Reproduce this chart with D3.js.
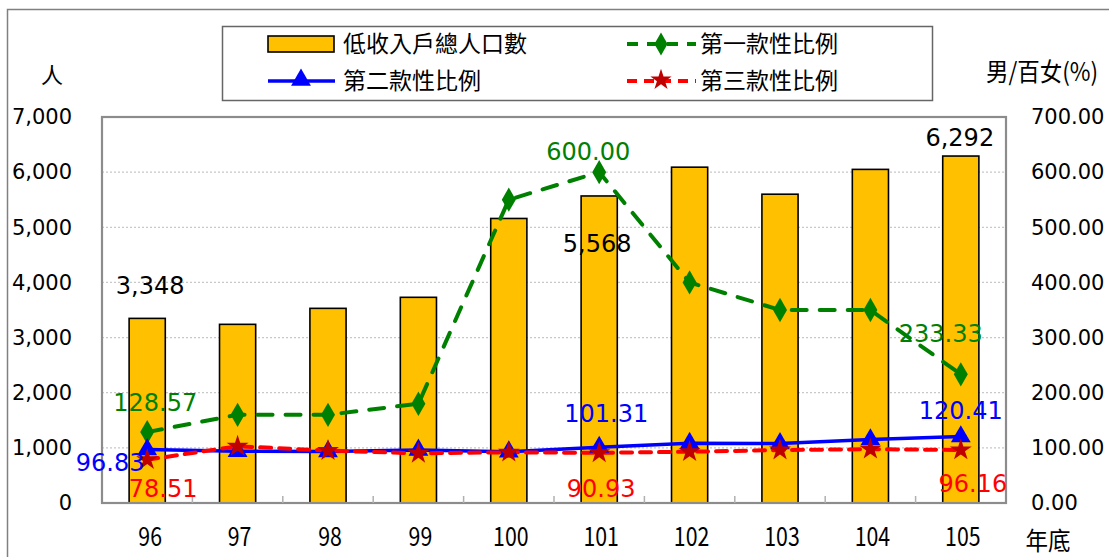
<!DOCTYPE html>
<html><head><meta charset="utf-8">
<script src="https://cdn.jsdelivr.net/npm/d3@7"></script>
<style>
body{margin:0;background:#fff;}
svg{display:block;}
</style></head>
<body>
<svg id="chart" width="1109" height="557"></svg>
<script>
// ---- data ----
const years = ["96","97","98","99","100","101","102","103","104","105"];
const population = [3348, 3240, 3530, 3730, 5160, 5568, 6090, 5600, 6050, 6292];
const ratio1 = [128.57, 160.00, 160.00, 180.00, 550.00, 600.00, 400.00, 350.00, 350.00, 233.33];
const ratio2 = [96.83, 94.00, 93.50, 96.00, 93.00, 101.31, 108.50, 108.00, 115.00, 120.41];
const ratio3 = [78.51, 103.00, 95.00, 90.00, 92.00, 90.93, 93.00, 96.00, 97.50, 96.16];
const leftTicks = [0,1000,2000,3000,4000,5000,6000,7000];
const rightTicks = [0,100,200,300,400,500,600,700];
const legendNames = ["低收入戶總人口數","第一款性比例","第二款性比例","第三款性比例"];
const leftTitle = "人";
const rightTitle = "男/百女(%)";
const xTitle = "年底";

const svg = d3.select("#chart");
const numFont = "'DejaVu Sans', sans-serif";
const cjkFont = "'Noto Sans CJK TC', 'Noto Sans', sans-serif";

const L = 102, R = 1006, T = 117, B = 503;
const x = d3.scaleBand().domain(years).range([L, R]).paddingInner(0.6).paddingOuter(0.3);
const bw = x.bandwidth();
const cx = d => x(d) + bw / 2;
const yL = d3.scaleLinear().domain([0, 7000]).range([B, T]);
const yR = d3.scaleLinear().domain([0, 700]).range([B, T]);

// outer frame
svg.append("rect").attr("x", 7.5).attr("y", 9.5).attr("width", 1130).attr("height", 560)
  .attr("fill", "none").attr("stroke", "#808080").attr("stroke-width", 1.5);

// gridlines
svg.append("g").selectAll("line").data(leftTicks.filter(t => t > 0 && t < 7000)).join("line")
  .attr("x1", L).attr("x2", R).attr("y1", d => yL(d)).attr("y2", d => yL(d))
  .attr("stroke", "#c8c8c8").attr("stroke-width", 1.2).attr("stroke-dasharray", "2,2");

// bars
svg.append("g").selectAll("rect").data(years).join("rect")
  .attr("x", d => x(d)).attr("width", bw)
  .attr("y", (d, i) => yL(population[i])).attr("height", (d, i) => B - yL(population[i]))
  .attr("fill", "#FFC000").attr("stroke", "#000").attr("stroke-width", 1.6);

// plot frame
svg.append("rect").attr("x", L).attr("y", T).attr("width", R - L).attr("height", B - T)
  .attr("fill", "none").attr("stroke", "#8c8c8c").attr("stroke-width", 2.2);

// minor x ticks at boundaries
const step = x.step();
svg.append("g").selectAll("line").data(years.slice(0, -1)).join("line")
  .attr("x1", d => cx(d) + step / 2).attr("x2", d => cx(d) + step / 2)
  .attr("y1", B).attr("y2", B - 7).attr("stroke", "#b0b0b0").attr("stroke-width", 1.5);

// axes
const axL = svg.append("g").attr("transform", `translate(${L},0)`)
  .call(d3.axisLeft(yL).tickValues(leftTicks).tickFormat(d3.format(",")).tickSize(0).tickPadding(30));
const axR = svg.append("g").attr("transform", `translate(${R},0)`)
  .call(d3.axisRight(yR).tickValues(rightTicks).tickFormat(d3.format(".2f")).tickSize(0).tickPadding(25));
const axX = svg.append("g").attr("transform", `translate(0,${B})`)
  .call(d3.axisBottom(x).tickSize(0).tickPadding(25));
[axL, axR, axX].forEach(a => { a.select(".domain").remove(); });
axL.selectAll("text").attr("font-family", numFont).attr("font-size", 21).attr("fill", "#000");
axR.selectAll("text").attr("font-family", numFont).attr("font-size", 21).attr("fill", "#000");
axX.selectAll("text").attr("font-family", cjkFont).attr("font-size", 26).attr("fill", "#000")
  .attr("transform", (d, i) => `translate(${i === 0 ? 3 : 2},0) scale(0.82,1)`);

// axis titles
svg.append("text").attr("x", 52).attr("y", 83).attr("text-anchor", "middle")
  .attr("font-family", cjkFont).attr("font-size", 22).text(leftTitle);
svg.append("text").attr("transform", "translate(1042,81) scale(0.9,1)").attr("text-anchor", "middle")
  .attr("font-family", cjkFont).attr("font-size", 25).text(rightTitle);
svg.append("text").attr("transform", "translate(1048,550) scale(0.9,1)").attr("text-anchor", "middle")
  .attr("font-family", cjkFont).attr("font-size", 25).text(xTitle);

// series lines
const mkLine = vals => d3.line().x((d, i) => cx(years[i])).y(d => yR(d))(vals);
svg.append("path").attr("d", mkLine(ratio1)).attr("fill", "none").attr("stroke", "#008000")
  .attr("stroke-width", 4).attr("stroke-dasharray", "15,13").attr("stroke-linecap", "round");
svg.append("path").attr("d", mkLine(ratio2)).attr("fill", "none").attr("stroke", "#0000FF")
  .attr("stroke-width", 3.5);
svg.append("path").attr("d", mkLine(ratio3)).attr("fill", "none").attr("stroke", "#FF0000")
  .attr("stroke-width", 4).attr("stroke-dasharray", "11,8").attr("stroke-linecap", "round");

// markers
function markers(vals, type, size, fill) {
  svg.append("g").selectAll("path").data(vals).join("path")
    .attr("transform", (d, i) => `translate(${cx(years[i])},${yR(d)})`)
    .attr("d", d3.symbol().type(type).size(size)).attr("fill", fill);
}
markers(ratio1, d3.symbolDiamond, 170, "#008000");
markers(ratio2, d3.symbolTriangle, 170, "#0000FF");
markers(ratio3, d3.symbolStar, 150, "#C00000");

// data labels
function label(txt, xx, yy, color) {
  svg.append("text").attr("x", xx).attr("y", yy).attr("text-anchor", "middle")
    .attr("font-family", numFont).attr("font-size", 24).attr("fill", color).text(txt);
}
const fmtN = d3.format(",");
const fmtR = d3.format(".2f");
label(fmtN(population[0]), cx(years[0]) + 3, yL(population[0]) - 24, "#000");
label(fmtN(population[5]), cx(years[5]) - 2, yL(population[5]) + 56, "#000");
label(fmtN(population[9]), cx(years[9]) - 1, yL(population[9]) - 10, "#000");
label(fmtR(ratio1[0]), cx(years[0]) + 8, yR(ratio1[0]) - 21, "#008000");
label(fmtR(ratio1[5]), cx(years[5]) - 11, yR(ratio1[5]) - 12, "#008000");
label(fmtR(ratio1[9]), cx(years[9]) - 20, yR(ratio1[9]) - 32, "#008000");
label(fmtR(ratio2[0]), cx(years[0]) - 37, yR(ratio2[0]) + 21, "#0000FF");
label(fmtR(ratio2[5]), cx(years[5]) + 7, yR(ratio2[5]) - 25, "#0000FF");
label(fmtR(ratio2[9]), cx(years[9]), yR(ratio2[9]) - 18, "#0000FF");
label(fmtR(ratio3[0]), cx(years[0]) + 16, yR(ratio3[0]) + 37, "#FF0000");
label(fmtR(ratio3[5]), cx(years[5]) + 2, yR(ratio3[5]) + 44, "#FF0000");
label(fmtR(ratio3[9]), cx(years[9]) + 12, yR(ratio3[9]) + 42, "#FF0000");

// legend
const lg = svg.append("g");
lg.append("rect").attr("x", 222.5).attr("y", 26.5).attr("width", 710).attr("height", 74)
  .attr("fill", "#fff").attr("stroke", "#666").attr("stroke-width", 1.5);
lg.append("rect").attr("x", 268).attr("y", 36).attr("width", 66).attr("height", 16)
  .attr("fill", "#FFC000").attr("stroke", "#000").attr("stroke-width", 1.6);
// green
lg.append("line").attr("x1", 627).attr("x2", 696).attr("y1", 44).attr("y2", 44)
  .attr("stroke", "#008000").attr("stroke-width", 4).attr("stroke-dasharray", "11,9");
lg.append("path").attr("transform", "translate(661,44)").attr("d", d3.symbol().type(d3.symbolDiamond).size(150)).attr("fill", "#008000");
// blue
lg.append("line").attr("x1", 268).attr("x2", 335).attr("y1", 81).attr("y2", 81)
  .attr("stroke", "#0000FF").attr("stroke-width", 3.5);
lg.append("path").attr("transform", "translate(301,80)").attr("d", d3.symbol().type(d3.symbolTriangle).size(170)).attr("fill", "#0000FF");
// red
lg.append("line").attr("x1", 627).attr("x2", 696).attr("y1", 81).attr("y2", 81)
  .attr("stroke", "#FF0000").attr("stroke-width", 4).attr("stroke-dasharray", "10,7");
lg.append("path").attr("transform", "translate(661,80)").attr("d", d3.symbol().type(d3.symbolStar).size(140)).attr("fill", "#C00000");
const lt = [[343, 52], [700, 52], [343, 89], [700, 89]];
const order = [0, 1, 2, 3];
lg.selectAll("text.lt").data(order).join("text").attr("class", "lt")
  .attr("x", i => lt[i][0]).attr("y", i => lt[i][1])
  .attr("font-family", cjkFont).attr("font-size", 23).attr("fill", "#000")
  .text(i => legendNames[i]);
</script>
</body></html>
